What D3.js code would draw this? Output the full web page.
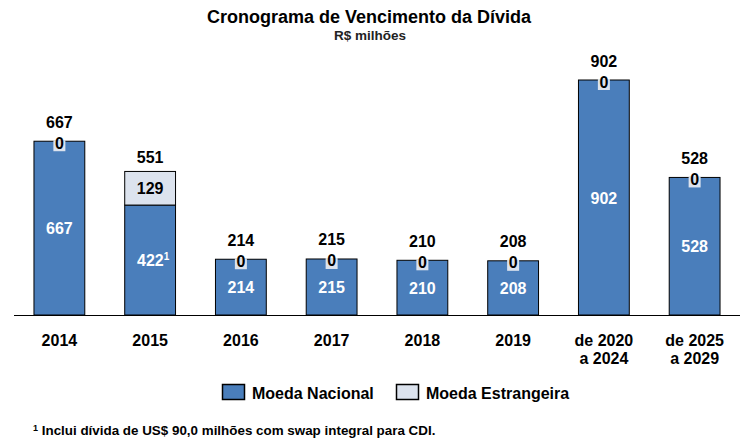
<!DOCTYPE html>
<html><head><meta charset="utf-8">
<script src="https://cdn.jsdelivr.net/npm/d3@7"></script>
<style>body{margin:0;background:#fff;}svg{display:block;font-family:"Liberation Sans",Arial,sans-serif;}</style>
</head><body>
<svg id="c" width="752" height="446"></svg>
<script>
const categories = [["2014"],["2015"],["2016"],["2017"],["2018"],["2019"],["de 2020","a 2024"],["de 2025","a 2029"]];
const nacional = [667,422,214,215,210,208,902,528];
const estrangeira = [0,129,0,0,0,0,0,0];
const footnoteIdx = 1;
const colors = {nac:"#4a7ebb", est:"#dce3ee"};

const svg = d3.select("#c");
const baseY = 315;
const x = d3.scaleBand().domain(d3.range(categories.length)).range([14,740]).paddingInner(0.44).paddingOuter(0.22);
const y = d3.scaleLinear().domain([0,902]).range([baseY, baseY-235]);

svg.append("text").attr("x",369).attr("y",23).attr("text-anchor","middle").attr("font-weight","bold").attr("font-size",18).text("Cronograma de Vencimento da Dívida");
svg.append("text").attr("x",370).attr("y",40).attr("text-anchor","middle").attr("font-size",13.5).attr("font-weight","bold").attr("fill","#222").text("R$ milhões");

const g = svg.append("g");
categories.forEach((c,i)=>{
  const x0 = x(i), w = x.bandwidth(), cx = x0 + w/2;
  const n = nacional[i], e = estrangeira[i], t = n+e;
  g.append("rect").attr("x",x0).attr("y",y(n)).attr("width",w).attr("height",y(0)-y(n)).attr("fill",colors.nac).attr("stroke","#000").attr("stroke-width",1);
  if(e>0){
    g.append("rect").attr("x",x0).attr("y",y(t)).attr("width",w).attr("height",y(n)-y(t)).attr("fill",colors.est).attr("stroke","#000").attr("stroke-width",1);
    g.append("text").attr("x",cx).attr("y",(y(t)+y(n))/2+6).attr("text-anchor","middle").attr("font-weight","bold").attr("font-size",16).text(e);
  } else {
    g.append("rect").attr("x",cx-6).attr("y",y(n)-1).attr("width",12).attr("height",11).attr("fill",colors.est);
    g.append("text").attr("x",cx).attr("y",y(n)+7.5).attr("text-anchor","middle").attr("font-weight","bold").attr("font-size",16).text(e);
  }
  const lt = g.append("text").attr("x",cx).attr("y",(y(n)+y(0))/2+6).attr("text-anchor","middle").attr("font-weight","bold").attr("font-size",16).attr("fill","#fff");
  lt.append("tspan").text(n);
  if(i===footnoteIdx){ lt.append("tspan").attr("font-size",10).attr("dy",-6).text("1"); lt.attr("x",cx+3); }
  g.append("text").attr("x",cx).attr("y",y(t)-(e>0?8:13.5)).attr("text-anchor","middle").attr("font-weight","bold").attr("font-size",16).text(t);
  c.forEach((line,k)=>{
    g.append("text").attr("x",cx).attr("y",346+k*18).attr("text-anchor","middle").attr("font-weight","bold").attr("font-size",16).text(line);
  });
});
svg.append("line").attr("x1",14).attr("x2",740).attr("y1",baseY+0.5).attr("y2",baseY+0.5).attr("stroke","#000").attr("stroke-width",1);

const legend = [["Moeda Nacional",colors.nac,222],["Moeda Estrangeira",colors.est,396]];
legend.forEach(([lab,col,lx])=>{
  svg.append("rect").attr("x",lx+0.5).attr("y",384.5).attr("width",22).attr("height",15).attr("fill",col).attr("stroke","#000").attr("stroke-width",1.5);
  svg.append("text").attr("x",lx+30).attr("y",398.5).attr("font-weight","bold").attr("font-size",16).text(lab);
});
const fn = svg.append("text").attr("x",33).attr("y",435).attr("font-weight","bold").attr("font-size",13.4);
fn.append("tspan").attr("font-size",9).attr("dy",-4).text("1");
fn.append("tspan").attr("dy",4).text(" Inclui dívida de US$ 90,0 milhões com swap integral para CDI.");
</script>
</body></html>
